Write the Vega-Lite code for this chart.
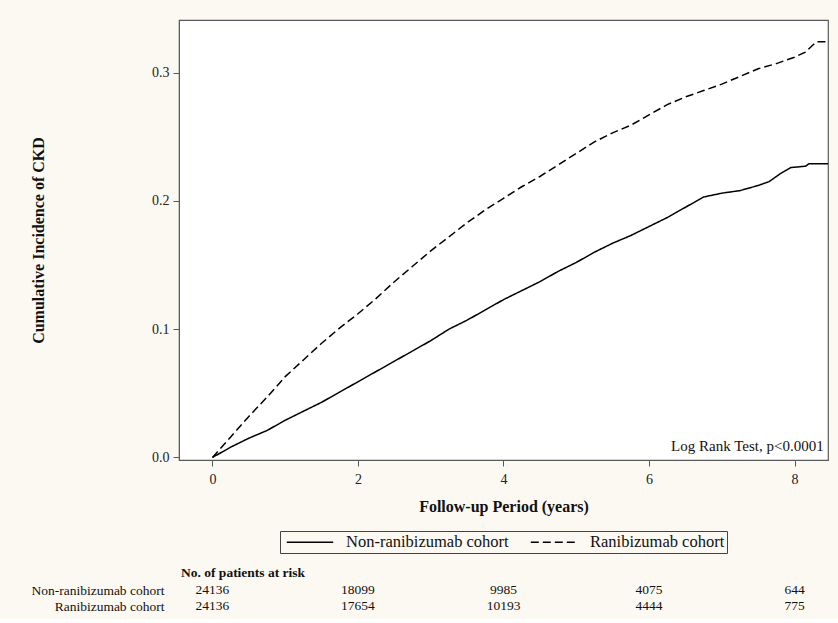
{
  "$schema": "https://vega.github.io/schema/vega-lite/v6.json",
  "background": "#fcf9f2",
  "padding": {"left": 29, "top": 19, "right": 10, "bottom": 5},
  "config": {
    "font": "Liberation Serif",
    "view": {"fill": "white", "stroke": "#5a5a5a", "strokeWidth": 1.2},
    "axis": {"labelFont": "Liberation Serif", "titleFont": "Liberation Serif", "labelColor": "#222", "titleColor": "#111", "domainColor": "#5a5a5a", "tickColor": "#5a5a5a", "grid": false, "labelFontSize": 14, "titleFontSize": 16, "titleFontWeight": "bold"}
  },
  "vconcat": [
    {
      "width": 649,
      "height": 440,
      "encoding": {
        "x": {"field": "t", "type": "quantitative", "scale": {"domain": [-0.46, 8.46], "nice": false, "zero": false},
          "axis": {"values": [0, 2, 4, 6, 8], "format": "d", "title": "Follow-up Period (years)", "tickSize": 6, "labelPadding": 6, "titlePadding": 12}},
        "y": {"field": "v", "type": "quantitative", "scale": {"domain": [-0.002, 0.341], "nice": false, "zero": false},
          "axis": {"values": [0, 0.1, 0.2, 0.3], "format": ".1f", "title": "Cumulative Incidence of CKD", "tickSize": 6, "labelPadding": 4, "titlePadding": 105}}
      },
      "layer": [
        {
          "data": {"values": [
            {"cohort": "Non-ranibizumab cohort", "t": 0, "v": 0},
            {"cohort": "Non-ranibizumab cohort", "t": 0.25, "v": 0.008},
            {"cohort": "Non-ranibizumab cohort", "t": 0.5, "v": 0.015},
            {"cohort": "Non-ranibizumab cohort", "t": 0.75, "v": 0.021},
            {"cohort": "Non-ranibizumab cohort", "t": 1, "v": 0.029},
            {"cohort": "Non-ranibizumab cohort", "t": 1.25, "v": 0.036},
            {"cohort": "Non-ranibizumab cohort", "t": 1.5, "v": 0.043},
            {"cohort": "Non-ranibizumab cohort", "t": 1.75, "v": 0.051},
            {"cohort": "Non-ranibizumab cohort", "t": 2, "v": 0.059},
            {"cohort": "Non-ranibizumab cohort", "t": 2.25, "v": 0.067},
            {"cohort": "Non-ranibizumab cohort", "t": 2.5, "v": 0.075},
            {"cohort": "Non-ranibizumab cohort", "t": 2.75, "v": 0.083},
            {"cohort": "Non-ranibizumab cohort", "t": 3, "v": 0.091},
            {"cohort": "Non-ranibizumab cohort", "t": 3.25, "v": 0.1},
            {"cohort": "Non-ranibizumab cohort", "t": 3.5, "v": 0.107},
            {"cohort": "Non-ranibizumab cohort", "t": 3.75, "v": 0.115},
            {"cohort": "Non-ranibizumab cohort", "t": 4, "v": 0.123},
            {"cohort": "Non-ranibizumab cohort", "t": 4.25, "v": 0.13},
            {"cohort": "Non-ranibizumab cohort", "t": 4.5, "v": 0.137},
            {"cohort": "Non-ranibizumab cohort", "t": 4.75, "v": 0.145},
            {"cohort": "Non-ranibizumab cohort", "t": 5, "v": 0.152},
            {"cohort": "Non-ranibizumab cohort", "t": 5.25, "v": 0.16},
            {"cohort": "Non-ranibizumab cohort", "t": 5.5, "v": 0.167},
            {"cohort": "Non-ranibizumab cohort", "t": 5.75, "v": 0.173},
            {"cohort": "Non-ranibizumab cohort", "t": 6, "v": 0.18},
            {"cohort": "Non-ranibizumab cohort", "t": 6.25, "v": 0.187},
            {"cohort": "Non-ranibizumab cohort", "t": 6.5, "v": 0.195},
            {"cohort": "Non-ranibizumab cohort", "t": 6.75, "v": 0.203},
            {"cohort": "Non-ranibizumab cohort", "t": 7, "v": 0.206},
            {"cohort": "Non-ranibizumab cohort", "t": 7.25, "v": 0.208},
            {"cohort": "Non-ranibizumab cohort", "t": 7.5, "v": 0.212},
            {"cohort": "Non-ranibizumab cohort", "t": 7.65, "v": 0.215},
            {"cohort": "Non-ranibizumab cohort", "t": 7.8, "v": 0.221},
            {"cohort": "Non-ranibizumab cohort", "t": 7.95, "v": 0.226},
            {"cohort": "Non-ranibizumab cohort", "t": 8.15, "v": 0.227},
            {"cohort": "Non-ranibizumab cohort", "t": 8.2, "v": 0.229},
            {"cohort": "Non-ranibizumab cohort", "t": 8.46, "v": 0.229},
            {"cohort": "Ranibizumab cohort", "t": 0, "v": 0},
            {"cohort": "Ranibizumab cohort", "t": 0.25, "v": 0.016},
            {"cohort": "Ranibizumab cohort", "t": 0.5, "v": 0.032},
            {"cohort": "Ranibizumab cohort", "t": 0.75, "v": 0.047},
            {"cohort": "Ranibizumab cohort", "t": 1, "v": 0.063},
            {"cohort": "Ranibizumab cohort", "t": 1.25, "v": 0.076},
            {"cohort": "Ranibizumab cohort", "t": 1.5, "v": 0.089},
            {"cohort": "Ranibizumab cohort", "t": 1.75, "v": 0.101},
            {"cohort": "Ranibizumab cohort", "t": 2, "v": 0.112},
            {"cohort": "Ranibizumab cohort", "t": 2.25, "v": 0.124},
            {"cohort": "Ranibizumab cohort", "t": 2.5, "v": 0.137},
            {"cohort": "Ranibizumab cohort", "t": 2.75, "v": 0.149},
            {"cohort": "Ranibizumab cohort", "t": 3, "v": 0.161},
            {"cohort": "Ranibizumab cohort", "t": 3.25, "v": 0.172},
            {"cohort": "Ranibizumab cohort", "t": 3.5, "v": 0.183},
            {"cohort": "Ranibizumab cohort", "t": 3.75, "v": 0.193},
            {"cohort": "Ranibizumab cohort", "t": 4, "v": 0.202},
            {"cohort": "Ranibizumab cohort", "t": 4.25, "v": 0.211},
            {"cohort": "Ranibizumab cohort", "t": 4.5, "v": 0.219},
            {"cohort": "Ranibizumab cohort", "t": 4.75, "v": 0.228},
            {"cohort": "Ranibizumab cohort", "t": 5, "v": 0.237},
            {"cohort": "Ranibizumab cohort", "t": 5.25, "v": 0.246},
            {"cohort": "Ranibizumab cohort", "t": 5.5, "v": 0.253},
            {"cohort": "Ranibizumab cohort", "t": 5.75, "v": 0.259},
            {"cohort": "Ranibizumab cohort", "t": 6, "v": 0.267},
            {"cohort": "Ranibizumab cohort", "t": 6.25, "v": 0.275},
            {"cohort": "Ranibizumab cohort", "t": 6.5, "v": 0.281},
            {"cohort": "Ranibizumab cohort", "t": 6.75, "v": 0.286},
            {"cohort": "Ranibizumab cohort", "t": 7, "v": 0.291},
            {"cohort": "Ranibizumab cohort", "t": 7.25, "v": 0.297},
            {"cohort": "Ranibizumab cohort", "t": 7.5, "v": 0.303},
            {"cohort": "Ranibizumab cohort", "t": 7.75, "v": 0.307},
            {"cohort": "Ranibizumab cohort", "t": 8, "v": 0.312},
            {"cohort": "Ranibizumab cohort", "t": 8.15, "v": 0.316},
            {"cohort": "Ranibizumab cohort", "t": 8.3, "v": 0.324},
            {"cohort": "Ranibizumab cohort", "t": 8.46, "v": 0.324}
          ]},
          "mark": {"type": "line", "color": "black", "strokeWidth": 1.5},
          "encoding": {
            "strokeDash": {"field": "cohort", "type": "nominal",
              "scale": {"domain": ["Non-ranibizumab cohort", "Ranibizumab cohort"], "range": [[1, 0], [8, 4]]},
              "legend": {"title": null, "orient": "none", "legendX": 101, "legendY": 511, "direction": "horizontal", "labelFontSize": 16.5, "labelLimit": 400, "labelFont": "Liberation Serif", "labelColor": "#111", "symbolType": "M-2.9,0H2.9", "symbolSize": 256, "symbolOffset": 19, "symbolStrokeWidth": 1.3, "symbolStrokeColor": "black", "strokeColor": "#444", "padding": 2, "columnPadding": 17, "labelOffset": 27}}
          }
        },
        {
          "data": {"values": [{"label": "Log Rank Test, p<0.0001", "t": 8.4, "v": 0.009}]},
          "mark": {"type": "text", "align": "right", "baseline": "middle", "fontSize": 15, "font": "Liberation Serif", "color": "#111"},
          "encoding": {
            "text": {"field": "label"}
          }
        }
      ]
    },
    {
      "width": 649,
      "height": 32,
      "view": {"fill": null, "stroke": null},
      "title": {"text": "No. of patients at risk", "anchor": "start", "frame": "group", "fontSize": 13.5, "fontWeight": "bold", "font": "Liberation Serif", "color": "#111", "offset": 3, "dx": 2},
      "data": {"values": [
        {"cohort": "Non-ranibizumab cohort", "t": 0, "n": "24136"},
        {"cohort": "Non-ranibizumab cohort", "t": 2, "n": "18099"},
        {"cohort": "Non-ranibizumab cohort", "t": 4, "n": "9985"},
        {"cohort": "Non-ranibizumab cohort", "t": 6, "n": "4075"},
        {"cohort": "Non-ranibizumab cohort", "t": 8, "n": "644"},
        {"cohort": "Ranibizumab cohort", "t": 0, "n": "24136"},
        {"cohort": "Ranibizumab cohort", "t": 2, "n": "17654"},
        {"cohort": "Ranibizumab cohort", "t": 4, "n": "10193"},
        {"cohort": "Ranibizumab cohort", "t": 6, "n": "4444"},
        {"cohort": "Ranibizumab cohort", "t": 8, "n": "775"}
      ]},
      "mark": {"type": "text", "fontSize": 13.5, "font": "Liberation Serif", "color": "#111", "baseline": "middle"},
      "encoding": {
        "x": {"field": "t", "type": "quantitative", "scale": {"domain": [-0.46, 8.46], "nice": false, "zero": false}, "axis": null},
        "y": {"field": "cohort", "type": "nominal", "sort": ["Non-ranibizumab cohort", "Ranibizumab cohort"],
          "axis": {"title": null, "domain": false, "ticks": false, "labelPadding": 15, "labelFontSize": 13.5, "labelColor": "#111"}},
        "text": {"field": "n"}
      }
    }
  ],
  "spacing": 50
}
